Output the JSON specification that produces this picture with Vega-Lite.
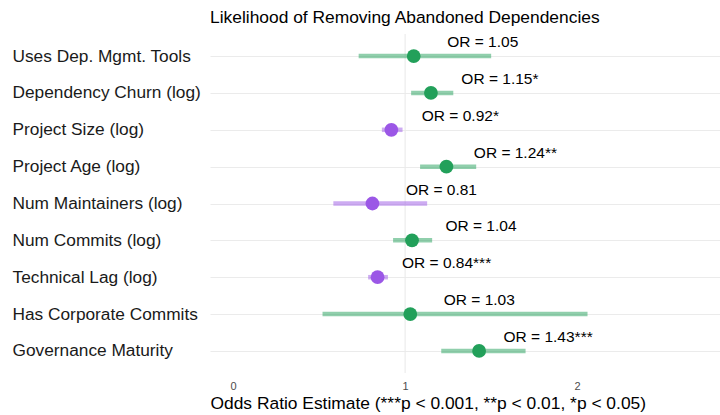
{
  "$schema": "https://vega.github.io/schema/vega-lite/v6.json",
  "autosize": "none",
  "width": 510,
  "height": 339,
  "padding": {"left": 210, "top": 34, "right": 0, "bottom": 42},
  "background": "white",
  "title": {
    "text": "Likelihood of Removing Abandoned Dependencies",
    "anchor": "start",
    "frame": "group",
    "font": "Liberation Sans",
    "fontSize": 17.4,
    "fontWeight": "normal",
    "color": "#000000",
    "offset": 7
  },
  "config": {
    "view": {"stroke": null},
    "font": "Liberation Sans"
  },
  "data": {
    "values": [
      {"variable": "Uses Dep. Mgmt. Tools", "estimate": 1.05, "lo": 0.73, "hi": 1.5, "effect": "positive", "label": "OR = 1.05"},
      {"variable": "Dependency Churn (log)", "estimate": 1.15, "lo": 1.035, "hi": 1.28, "effect": "positive", "label": "OR = 1.15*"},
      {"variable": "Project Size (log)", "estimate": 0.92, "lo": 0.865, "hi": 0.985, "effect": "negative", "label": "OR = 0.92*"},
      {"variable": "Project Age (log)", "estimate": 1.24, "lo": 1.087, "hi": 1.413, "effect": "positive", "label": "OR = 1.24**"},
      {"variable": "Num Maintainers (log)", "estimate": 0.81, "lo": 0.583, "hi": 1.128, "effect": "negative", "label": "OR = 0.81"},
      {"variable": "Num Commits (log)", "estimate": 1.04, "lo": 0.93, "hi": 1.157, "effect": "positive", "label": "OR = 1.04"},
      {"variable": "Technical Lag (log)", "estimate": 0.84, "lo": 0.785, "hi": 0.9, "effect": "negative", "label": "OR = 0.84***"},
      {"variable": "Has Corporate Commits", "estimate": 1.03, "lo": 0.52, "hi": 2.06, "effect": "positive", "label": "OR = 1.03"},
      {"variable": "Governance Maturity", "estimate": 1.43, "lo": 1.21, "hi": 1.7, "effect": "positive", "label": "OR = 1.43***"}
    ]
  },
  "encoding": {
    "y": {
      "field": "variable",
      "type": "nominal",
      "sort": null,
      "title": null,
      "scale": {"type": "point", "padding": 0.6},
      "axis": {
        "grid": true,
        "gridColor": "#ebebeb",
        "gridWidth": 1.1,
        "domain": false,
        "ticks": false,
        "labelFontSize": 17.3,
        "labelColor": "#1a1a1a",
        "labelAlign": "left",
        "labelPadding": 198,
        "labelLimit": 0
      }
    }
  },
  "layer": [
    {
      "data": {"values": [{"ref": 1}]},
      "mark": {"type": "rule", "color": "#ebebeb", "strokeWidth": 1.1},
      "encoding": {
        "x": {"field": "ref", "type": "quantitative"},
        "y": null
      }
    },
    {
      "mark": {"type": "rule", "strokeWidth": 4.5, "opacity": 0.5},
      "encoding": {
        "x": {
          "field": "lo",
          "type": "quantitative",
          "title": "Odds Ratio Estimate (***p < 0.001, **p < 0.01, *p < 0.05)",
          "scale": {"domain": [-0.134, 2.83], "nice": false, "zero": false},
          "axis": {
            "values": [0, 1, 2],
            "format": "d",
            "grid": false,
            "ticks": false,
            "domain": false,
            "labelFontSize": 11,
            "labelColor": "#4d4d4d",
            "labelPadding": 7,
            "titleFontSize": 17.4,
            "titleFontWeight": "normal",
            "titleColor": "#000000",
            "titleAnchor": "start",
            "titlePadding": 3
          }
        },
        "x2": {"field": "hi"},
        "color": {
          "field": "effect",
          "type": "nominal",
          "scale": {"domain": ["positive", "negative"], "range": ["#22a05a", "#9b57e6"]},
          "legend": null
        }
      }
    },
    {
      "mark": {"type": "circle", "size": 190, "opacity": 1},
      "encoding": {
        "x": {"field": "estimate", "type": "quantitative"},
        "color": {"field": "effect", "type": "nominal", "legend": null}
      }
    },
    {
      "mark": {"type": "text", "dx": 69, "dy": -14, "fontSize": 15.5, "align": "center", "baseline": "middle", "color": "#000000"},
      "encoding": {
        "x": {"field": "estimate", "type": "quantitative"},
        "text": {"field": "label", "type": "nominal"}
      }
    }
  ]
}
